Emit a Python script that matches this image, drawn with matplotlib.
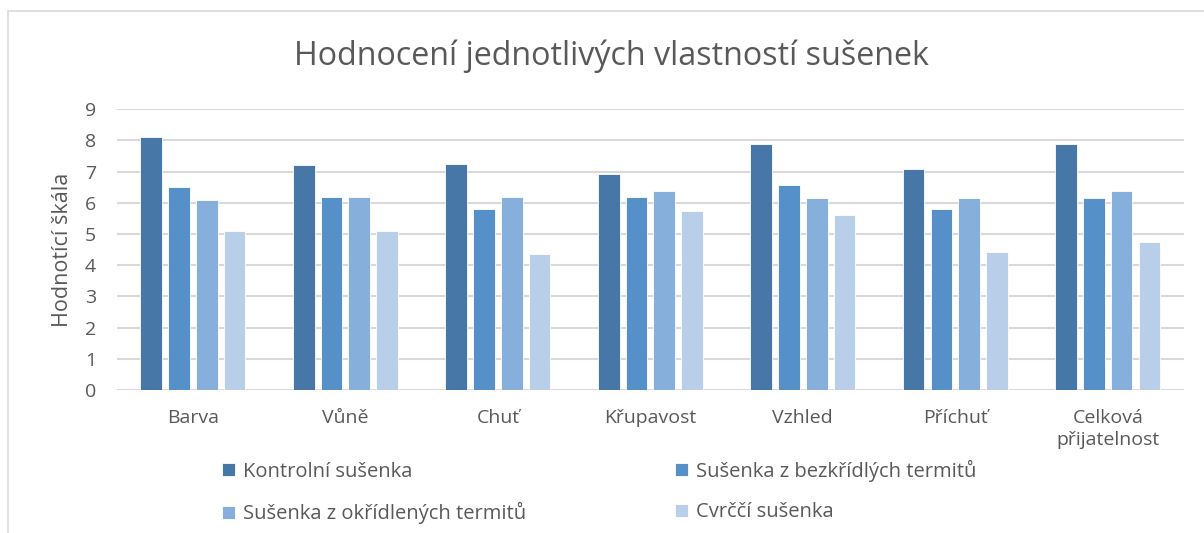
import numpy as np
import matplotlib.pyplot as plt
import matplotlib.patches

categories = ['Barva', 'Vůně', 'Chuť', 'Křupavost', 'Vzhled', 'Příchuť', 'Celková\npřijatelnost']
series_names = ['Kontrolní sušenka', 'Sušenka z bezkřídlých termitů',
                'Sušenka z okřídlených termitů', 'Cvrččí sušenka']
kontrolni = [8.1, 7.2, 7.25, 6.92, 7.88, 7.1, 7.9]
bezkridli = [6.52, 6.18, 5.79, 6.18, 6.58, 5.79, 6.15]
okridleni = [6.08, 6.2, 6.2, 6.39, 6.17, 6.17, 6.39]
cvrcci = [5.09, 5.09, 4.35, 5.75, 5.6, 4.41, 4.75]
colors = ['#4677A6', '#5591C8', '#86AFDC', '#B9CEE8']

plt.rcParams['font.family'] = ['Open Sans', 'DejaVu Sans']
txt = '#595959'

fig = plt.figure(figsize=(12.04, 5.33), dpi=100)
ax = fig.add_axes([0.0969, 0.2683, 0.8865, 0.5267])

x = np.arange(len(categories))
w = 0.142
step = 0.182
data = [kontrolni, bezkridli, okridleni, cvrcci]
bars = []
for i, (vals, name, c) in enumerate(zip(data, series_names, colors)):
    b = ax.bar(x + (i - 1.5) * step, vals, w, color=c, label=name,
               edgecolor='white', linewidth=0.6, zorder=3)
    bars.append(b)

ax.set_xlim(-0.5, len(categories) - 0.5)
ax.set_ylim(0, 9)
ax.set_yticks(range(10))
ax.set_xticks(x)
ax.set_xticklabels(categories, fontsize=14, color=txt, va='top', linespacing=1.25)
ax.tick_params(axis='y', labelsize=14, labelcolor=txt, length=0, pad=15)
ax.tick_params(axis='x', length=0, pad=14)
ax.grid(axis='y', color='#D9D9D9', linewidth=1.5, zorder=0)
for s in ax.spines.values():
    s.set_visible(False)
ax.set_ylabel('Hodnotící škála', fontsize=15.5, color=txt, labelpad=8)

fig.text(0.508, 0.895, 'Hodnocení jednotlivých vlastností sušenek',
         ha='center', va='center', fontsize=23.2, color=txt)

# legend goes row by row like in excel
order = [0, 2, 1, 3]
fig.legend([bars[k] for k in order], [series_names[k] for k in order],
           loc='center left', bbox_to_anchor=(0.1841, 0.077),
           ncol=2, frameon=False, borderaxespad=0, borderpad=0,
           fontsize=14.5, labelcolor=txt, handlelength=0.65, handleheight=0.65,
           handletextpad=0.4, columnspacing=7.4, labelspacing=1.03)

fig.patches.append(matplotlib.patches.Rectangle((0.0066, -0.1), 1.1, 1.0794, transform=fig.transFigure,
                                                fill=False, edgecolor='#D9D9D9', linewidth=1.2))

plt.savefig('out.png', dpi=100)
